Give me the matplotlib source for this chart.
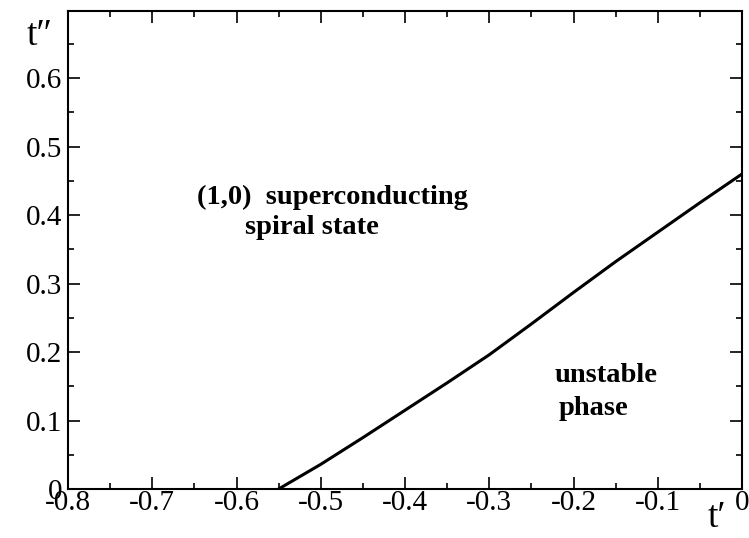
import numpy as np
import matplotlib
matplotlib.use('Agg')
import matplotlib.pyplot as plt
from matplotlib.ticker import MultipleLocator

# phase boundary t'' vs t'
tp = [-0.55, -0.5, -0.45, -0.4, -0.35, -0.3, -0.25, -0.2, -0.15, -0.1, -0.05, 0.0]
tpp = [0.0, 0.036, 0.075, 0.115, 0.155, 0.196, 0.241, 0.287, 0.332, 0.375, 0.418, 0.46]

xticks = [-0.8, -0.7, -0.6, -0.5, -0.4, -0.3, -0.2, -0.1, 0]
xlabels = ['-0.8', '-0.7', '-0.6', '-0.5', '-0.4', '-0.3', '-0.2', '-0.1', '0']
yticks = [0, 0.1, 0.2, 0.3, 0.4, 0.5, 0.6]
ylabels = ['0', '0.1', '0.2', '0.3', '0.4', '0.5', '0.6']

plt.rcParams['font.family'] = 'Liberation Serif'

fig = plt.figure(figsize=(7.49, 5.38), dpi=100)
ax = fig.add_axes([68/749, 1 - 489/538, (742-68)/749, (489-11)/538])

ax.plot(tp, tpp, color='black', lw=2.2)

ax.set_xlim(-0.8, 0)
ax.set_ylim(0, 0.698)
ax.set_xticks(xticks)
ax.set_xticklabels(xlabels)
ax.set_yticks(yticks)
ax.set_yticklabels(ylabels)
ax.xaxis.set_minor_locator(MultipleLocator(0.05))
ax.yaxis.set_minor_locator(MultipleLocator(0.05))
ax.tick_params(which='both', direction='in', top=True, right=True, labelsize=21, width=1.2)
ax.tick_params(which='major', length=8.6)
ax.tick_params(axis='x', which='major', pad=1)
ax.tick_params(axis='y', which='major', pad=4)
ax.tick_params(which='minor', length=4.3)
for s in ax.spines.values():
    s.set_linewidth(1.5)

fig.text(40/749, 1 - 36/538, "t\u2033", fontsize=27, ha='center', va='center')
fig.text(717/749, 1 - 518/538, "t\u2032", fontsize=27, ha='center', va='center')

bold = dict(fontsize=20.5, fontweight='bold', va='center')
ax.text(-0.647, 0.426, "(1,0)  superconducting", **bold)
ax.text(-0.590, 0.382, "spiral state", **bold)
ax.text(-0.222, 0.166, "unstable", **bold)
ax.text(-0.218, 0.118, "phase", **bold)

fig.savefig('out.png', dpi=100)
